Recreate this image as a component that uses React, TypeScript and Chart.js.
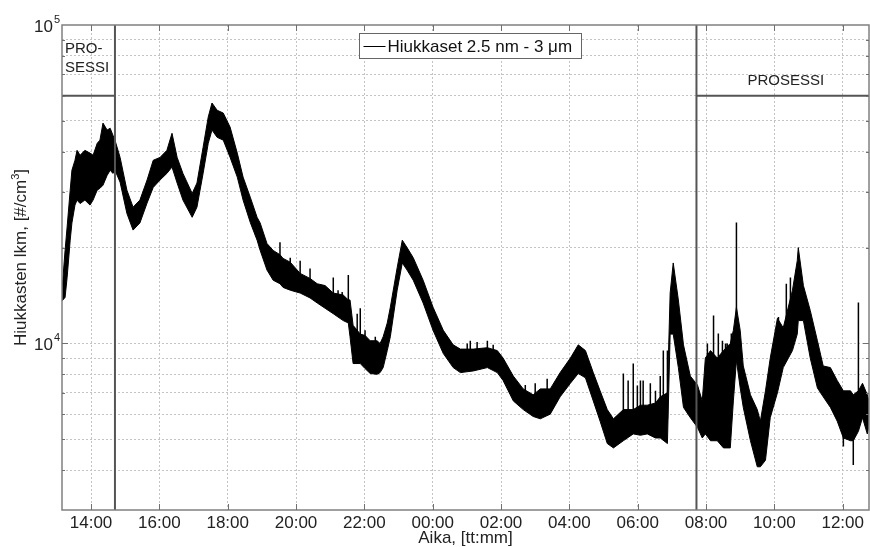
import React, { useEffect, useRef } from 'react';
import { Chart, registerables } from 'chart.js';

Chart.register(...registerables);

// Time in hours since midnight of the first day (values > 24 belong to the next day)
const timeHours = [
  13.15, 13.24, 13.30, 13.39, 13.44, 13.53, 13.59, 13.68, 13.82, 13.97,
  14.06, 14.18, 14.26, 14.35, 14.47, 14.56, 14.64, 14.70, 14.85, 15.05,
  15.23, 15.43, 15.64, 15.82, 16.02, 16.22, 16.37, 16.52, 16.69, 16.96,
  17.10, 17.28, 17.43, 17.54, 17.69, 17.87, 18.07, 18.28, 18.45, 18.66,
  18.86, 18.95, 19.15, 19.33, 19.53, 19.62, 19.83, 20.12, 20.41, 20.62,
  20.85, 21.09, 21.38, 21.53, 21.58, 21.67, 21.88, 22.02, 22.17, 22.37,
  22.46, 22.55, 22.67, 22.76, 22.96, 23.11, 23.25, 23.43, 23.72, 24.01,
  24.31, 24.60, 24.81, 25.19, 25.60, 25.89, 26.06, 26.36, 26.65, 26.94,
  27.15, 27.44, 27.73, 28.03, 28.26, 28.47, 28.70, 28.90, 29.11, 29.29,
  29.58, 29.87, 30.08, 30.28, 30.52, 30.66, 30.87, 30.95, 31.04, 31.19,
  31.34, 31.54, 31.75, 31.89, 31.98, 32.13, 32.33, 32.51, 32.71, 32.80,
  32.89, 33.00, 33.09, 33.30, 33.50, 33.59, 33.74, 33.88, 34.09, 34.26,
  34.53, 34.67, 34.70, 34.85, 35.05, 35.26, 35.43, 35.64, 35.84, 36.02,
  36.23, 36.31, 36.46, 36.58, 36.72, 36.77,
];

// Upper edge of the noisy concentration band, #/cm3
const upperValues = [
  14700, 19600, 23200, 30300, 35000, 37600, 40400, 39000, 40400, 39600,
  39000, 42500, 43500, 49200, 46800, 47400, 45100, 43500, 38400, 30300,
  26800, 28200, 32600, 37600, 38400, 40400, 45700, 38400, 34200, 29600,
  31900, 41300, 51400, 56900, 54000, 52900, 47800, 39600, 33300, 28800,
  24900, 23900, 20600, 19600, 19000, 18500, 18000, 16600, 16000, 15400,
  15200, 14400, 14200, 13700, 13700, 11400, 10700, 10600, 10200, 10200,
  10000, 10500, 11600, 13000, 17300, 21100, 20000, 18600, 15800, 13000,
  11000, 9900, 9600, 9600, 9700, 9500, 9000, 7900, 7200, 6900,
  7200, 7200, 8100, 9000, 9900, 9500, 8100, 7100, 6200, 5800,
  6200, 6200, 6400, 6400, 6500, 6800, 7000, 14400, 17900, 13700,
  9900, 7900, 7400, 6600, 9000, 9500, 9000, 9500, 10000, 11000,
  13000, 11000, 8500, 6900, 6200, 5700, 7100, 9000, 12000, 11200,
  14700, 18200, 20000, 15200, 12700, 10200, 8500, 8400, 7650, 7100,
  7100, 6900, 7100, 7500, 6900, 6600,
];

// Lower edge of the noisy concentration band, #/cm3
const lowerValues = [
  13600, 13950, 16100, 21100, 23900, 27200, 28200, 27500, 28200, 27200,
  28200, 30300, 30700, 31400, 33700, 35000, 34200, 35000, 32100, 25600,
  22700, 23900, 27600, 30900, 32600, 34200, 35800, 31900, 28200, 24900,
  26800, 34200, 42500, 46800, 44400, 43500, 38400, 33300, 28200, 24000,
  21100, 19600, 17000, 15800, 15400, 15000, 14700, 14400, 13900, 13400,
  12900, 12400, 11800, 11600, 10500, 8650, 8650, 8340, 8050, 8000,
  8100, 8400, 9500, 10500, 14700, 17900, 17000, 15800, 13400, 11000,
  9300, 8400, 8100, 8200, 8400, 8100, 7650, 6600, 6200, 5900,
  5800, 6000, 6800, 7500, 8050, 7800, 6600, 5700, 4850, 4700,
  4950, 5200, 5150, 5200, 5050, 5050, 4850, 10700, 10700, 8400,
  6300, 5850, 5450, 5050, 5200, 4950, 4950, 4700, 4700, 6600,
  8850, 7250, 6300, 4950, 4100, 4100, 4300, 5850, 7000, 8400,
  9500, 10700, 11800, 11800, 9000, 7250, 6800, 6300, 5700, 5050,
  4950, 4950, 5300, 5850, 5200, 5500,
];

// Isolated spikes sticking out of the band
const spikeHours = [
  19.53, 19.68, 19.83, 20.12, 20.41, 21.09, 21.23, 21.35, 21.53, 21.79,
  21.88, 22.02, 22.32, 25.01, 25.10, 25.30, 25.60, 25.77, 26.71, 27.00,
  27.35, 29.58, 29.72, 29.87, 29.99, 30.08, 30.16, 30.37, 30.52, 30.66,
  30.75, 30.87, 32.04, 32.22, 32.36, 32.48, 32.57, 32.62, 32.74, 32.89,
  34.12, 34.35, 34.47, 34.64, 36.02, 36.31, 36.46,
];
const spikeLow = [
  17000, 15500, 15500, 15500, 14500, 13500, 12700, 12500, 12500, 10000,
  9500, 9000, 9000, 9000, 9000, 9000, 9000, 9000, 6800, 6500,
  6600, 5800, 5800, 5800, 5800, 5800, 5800, 5800, 5800, 5800,
  5800, 5800, 6500, 6500, 6000, 6000, 6000, 6000, 6500, 9000,
  8000, 10000, 11000, 12000, 4750, 4150, 6500,
];
const spikeHigh = [
  20800, 18000, 18600, 18200, 17200, 16100, 14700, 14500, 16400, 12400,
  12900, 11000, 10500, 10000, 10200, 10100, 10200, 9900, 7400, 7500,
  7750, 8050, 7650, 8650, 7380, 7650, 7650, 7500, 7100, 7900,
  9500, 9500, 10000, 12250, 10750, 10200, 10000, 10000, 10750, 24000,
  12100, 15400, 16100, 17000, 6000, 6500, 13450,
];

const xTickHours = [14, 16, 18, 20, 22, 24, 26, 28, 30, 32, 34, 36];
const xTickLabels = ['14:00', '16:00', '18:00', '20:00', '22:00', '00:00', '02:00', '04:00', '06:00', '08:00', '10:00', '12:00'];
const yGridValues = [4000, 5000, 6000, 7000, 8000, 9000, 10000, 20000, 30000, 40000, 50000, 60000, 70000, 80000, 90000];
const yLabelValues = [10000, 100000];
const yLabelBase = '10';
const yLabelExponents = ['4', '5'];

const processBoundaries = [14.70, 31.72];
const processLevel = 60000;
const processLabelsLeft = ['PRO-', 'SESSI'];
const processLabelRight = 'PROSESSI';

const xMin = 13.15;
const xMax = 36.77;
const yMin = 3000;
const yMax = 100000;

const legendLabel = 'Hiukkaset 2.5 nm - 3 \u03bcm';
const xTitle = 'Aika, [tt:mm]';
const yTitleMain = 'Hiukkasten lkm, [#/cm';
const yTitleSup = '3';
const yTitleEnd = ']';

const FONT = '"Liberation Sans", Arial, Helvetica, sans-serif';

const decorPlugin = {
  id: 'decor',
  afterDraw(chart: any) {
    const { ctx, chartArea: a, scales } = chart;
    const xs = scales.x;
    const ys = scales.y;
    ctx.save();

    // frame
    ctx.strokeStyle = '#808080';
    ctx.lineWidth = 1.5;
    ctx.strokeRect(a.left, a.top, a.right - a.left, a.bottom - a.top);

    // inward tick marks
    ctx.lineWidth = 1;
    ctx.strokeStyle = '#707070';
    ctx.beginPath();
    xTickHours.forEach((h) => {
      const px = Math.round(xs.getPixelForValue(h)) + 0.5;
      ctx.moveTo(px, a.bottom);
      ctx.lineTo(px, a.bottom - 6);
      ctx.moveTo(px, a.top);
      ctx.lineTo(px, a.top + 6);
    });
    yGridValues.forEach((v) => {
      const py = Math.round(ys.getPixelForValue(v)) + 0.5;
      const len = yLabelValues.includes(v) ? 6 : 3;
      ctx.moveTo(a.left, py);
      ctx.lineTo(a.left + len, py);
      ctx.moveTo(a.right, py);
      ctx.lineTo(a.right - len, py);
    });
    ctx.stroke();

    // x tick labels
    ctx.fillStyle = '#222';
    ctx.font = `17px ${FONT}`;
    ctx.textAlign = 'center';
    ctx.textBaseline = 'alphabetic';
    xTickHours.forEach((h, i) => {
      ctx.fillText(xTickLabels[i], xs.getPixelForValue(h), a.bottom + 18);
    });

    // x title
    ctx.fillText(xTitle, (a.left + a.right) / 2, a.bottom + 33);

    // y tick labels with superscript exponents
    yLabelValues.forEach((v, i) => {
      const py = ys.getPixelForValue(v);
      ctx.textAlign = 'right';
      ctx.font = `17px ${FONT}`;
      ctx.fillText(yLabelBase, a.left - 9, py + 7);
      ctx.textAlign = 'left';
      ctx.font = `11px ${FONT}`;
      ctx.fillText(yLabelExponents[i], a.left - 8, py - 2);
    });

    // y title (rotated) with superscript
    ctx.save();
    ctx.translate(26, (a.top + a.bottom) / 2 - 10);
    ctx.rotate(-Math.PI / 2);
    ctx.textAlign = 'left';
    ctx.font = `17px ${FONT}`;
    const w1 = ctx.measureText(yTitleMain).width;
    const w3 = ctx.measureText(yTitleEnd).width;
    ctx.font = `11px ${FONT}`;
    const w2 = ctx.measureText(yTitleSup).width;
    const start = -(w1 + w2 + w3) / 2;
    ctx.font = `17px ${FONT}`;
    ctx.fillText(yTitleMain, start, 0);
    ctx.fillText(yTitleEnd, start + w1 + w2, 0);
    ctx.font = `11px ${FONT}`;
    ctx.fillText(yTitleSup, start + w1, -7);
    ctx.restore();

    // process labels
    ctx.font = `15px ${FONT}`;
    ctx.fillStyle = '#222';
    ctx.textAlign = 'left';
    ctx.fillText(processLabelsLeft[0], a.left + 3, a.top + 28);
    ctx.fillText(processLabelsLeft[1], a.left + 3, a.top + 47);
    ctx.textAlign = 'center';
    const pr = xs.getPixelForValue(processBoundaries[1]);
    ctx.fillText(processLabelRight, (pr + a.right) / 2 + 3, a.top + 60);

    // legend box
    const lx = 359.5;
    const ly = 33.5;
    const lw = 222;
    const lh = 25;
    ctx.fillStyle = '#fff';
    ctx.fillRect(lx, ly, lw, lh);
    ctx.strokeStyle = '#666';
    ctx.lineWidth = 1;
    ctx.strokeRect(lx, ly, lw, lh);
    ctx.strokeStyle = '#000';
    ctx.beginPath();
    ctx.moveTo(lx + 4, 46.5);
    ctx.lineTo(lx + 26, 46.5);
    ctx.stroke();
    ctx.fillStyle = '#111';
    ctx.textAlign = 'left';
    ctx.font = `17px ${FONT}`;
    ctx.fillText(legendLabel, lx + 28, 52);

    ctx.restore();
  },
};

export default function App() {
  const ref = useRef<HTMLCanvasElement>(null);

  useEffect(() => {
    if (!ref.current) return;
    const lower = timeHours.map((t, i) => ({ x: t, y: lowerValues[i] }));
    const upper = timeHours.map((t, i) => ({ x: t, y: upperValues[i] }));
    const spikes: any[] = [];
    spikeHours.forEach((t, i) => {
      spikes.push({ x: t, y: spikeLow[i] }, { x: t, y: spikeHigh[i] }, { x: t, y: null });
    });
    const procStyle = { borderColor: '#555', borderWidth: 2, pointRadius: 0, fill: false, order: 0 };
    const b0 = processBoundaries[0];
    const b1 = processBoundaries[1];

    const chart = new Chart(ref.current, {
      type: 'line',
      data: {
        datasets: [
          { label: 'lower', data: lower, borderColor: '#000', borderWidth: 1, pointRadius: 0, fill: false, order: 3 },
          { label: legendLabel, data: upper, borderColor: '#000', borderWidth: 1, pointRadius: 0, fill: '-1', backgroundColor: '#000', order: 3 },
          { label: 'spikes', data: spikes, borderColor: '#000', borderWidth: 1.5, pointRadius: 0, fill: false, spanGaps: false, order: 2 },
          { label: 'p1v', data: [{ x: b0, y: yMin }, { x: b0, y: yMax }], ...procStyle },
          { label: 'p1h', data: [{ x: xMin, y: processLevel }, { x: b0, y: processLevel }], ...procStyle },
          { label: 'p2v', data: [{ x: b1, y: yMin }, { x: b1, y: yMax }], ...procStyle },
          { label: 'p2h', data: [{ x: b1, y: processLevel }, { x: xMax, y: processLevel }], ...procStyle },
        ] as any,
      },
      options: {
        responsive: false,
        animation: false,
        layout: { padding: { left: 62, top: 25, right: 1, bottom: 37 } },
        plugins: { legend: { display: false }, tooltip: { enabled: false } },
        elements: { point: { radius: 0 }, line: { tension: 0 } },
        scales: {
          x: {
            type: 'linear',
            min: xMin,
            max: xMax,
            afterBuildTicks: (ax: any) => {
              ax.ticks = xTickHours.map((v) => ({ value: v }));
            },
            ticks: { display: false },
            grid: { color: '#c4c4c4', lineWidth: 1, drawTicks: false },
            border: { display: false, dash: [2, 2] },
          },
          y: {
            type: 'logarithmic',
            min: yMin,
            max: yMax,
            afterBuildTicks: (ax: any) => {
              ax.ticks = yGridValues.map((v) => ({ value: v }));
            },
            ticks: { display: false },
            grid: { color: '#c4c4c4', lineWidth: 1, drawTicks: false },
            border: { display: false, dash: [2, 2] },
          },
        },
      } as any,
      plugins: [decorPlugin],
    });
    return () => chart.destroy();
  }, []);

  return (
    <div style={{ position: 'absolute', left: 0, top: 0, width: 870, height: 547, background: '#fff' }}>
      <canvas ref={ref} width={870} height={547} style={{ display: 'block', width: 870, height: 547 }} />
    </div>
  );
}
